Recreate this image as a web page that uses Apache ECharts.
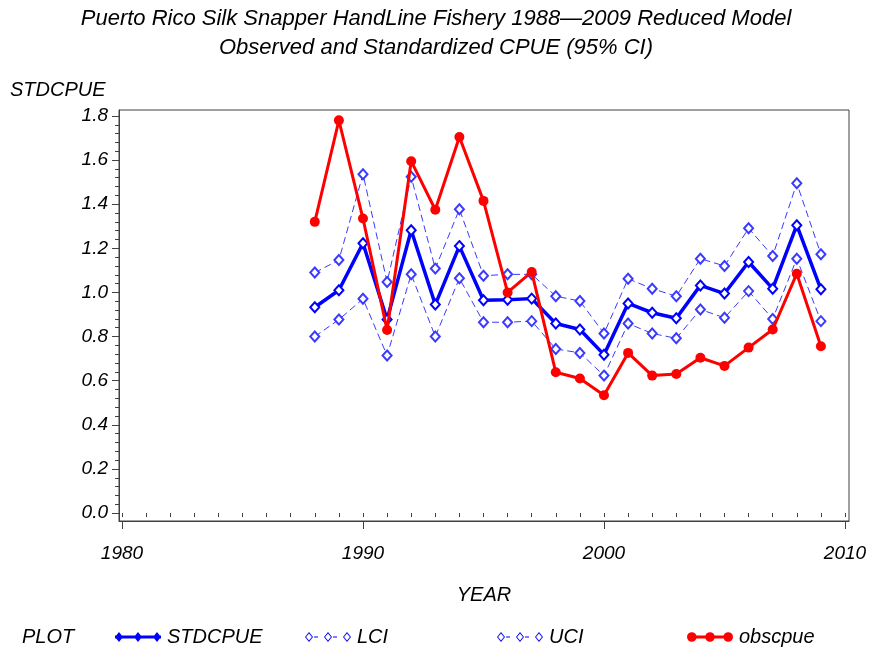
<!DOCTYPE html>
<html>
<head>
<meta charset="utf-8">
<script src="https://cdn.jsdelivr.net/npm/echarts@6/dist/echarts.min.js"></script>
<style>
html,body{margin:0;padding:0;background:#fff;}
#chart{width:872px;height:653px;}
</style>
</head>
<body>
<div id="chart"></div>
<script>
// ---- data ----
var years = [1988,1989,1990,1991,1992,1993,1994,1995,1996,1997,1998,1999,2000,2001,2002,2003,2004,2005,2006,2007,2008,2009];
var stdcpue = [0.933,1.010,1.223,0.877,1.282,0.945,1.210,0.965,0.967,0.972,0.859,0.832,0.718,0.950,0.908,0.883,1.032,0.995,1.138,1.017,1.305,1.014];
var lci = [0.800,0.877,0.971,0.714,1.082,0.800,1.064,0.865,0.865,0.870,0.744,0.726,0.623,0.859,0.814,0.792,0.923,0.885,1.006,0.880,1.153,0.870];
var uci = [1.090,1.147,1.536,1.047,1.524,1.108,1.377,1.076,1.082,1.082,0.983,0.961,0.814,1.062,1.017,0.983,1.153,1.120,1.291,1.165,1.495,1.173];
var obscpue = [1.320,1.780,1.335,0.830,1.595,1.375,1.705,1.415,1.000,1.093,0.638,0.610,0.534,0.726,0.623,0.630,0.704,0.667,0.750,0.832,1.085,0.756];
var xMajorTicks = [1980,1990,2000,2010];
var yMajorTicks = [0.0,0.2,0.4,0.6,0.8,1.0,1.2,1.4,1.6,1.8];
var titleLines = ['Puerto Rico Silk Snapper HandLine Fishery 1988\u20142009 Reduced Model','Observed and Standardized CPUE (95% CI)'];

// minor tick positions derived from the major ticks
var xMinorTicks = [];
for (var y = xMajorTicks[0]; y <= xMajorTicks[xMajorTicks.length-1]; y++) xMinorTicks.push(y);
var yMinorTicks = [];
for (var i = 0; i < yMajorTicks.length - 1; i++) {
  for (var k = 1; k < 5; k++) yMinorTicks.push(+(yMajorTicks[i] + k * (yMajorTicks[i+1]-yMajorTicks[i]) / 5).toFixed(3));
}

function pairs(vals){ return years.map(function(yr,i){ return [yr, vals[i]]; }); }

var FONT = '"Liberation Sans", Arial, sans-serif';
var AX = '#404040';
var BLUE = '#0000ff', RED = '#ff0000', LBLUE = '#3a3aff';

var iconStd = 'path://M0 3.5H46V6.5H0Z M4 0L8 5L4 10L0 5Z M23 0L27 5L23 10L19 5Z M42 0L46 5L42 10L38 5Z';
var iconCI = 'path://M4 0L8 5L4 10L0 5Z M4 1.4L1.1 5L4 8.6L6.9 5Z M23 0L27 5L23 10L19 5Z M23 1.4L20.1 5L23 8.6L25.9 5Z M42 0L46 5L42 10L38 5Z M42 1.4L39.1 5L42 8.6L44.9 5Z M9 4.6H13V5.4H9Z M28 4.6H32V5.4H28Z';
var iconObs = 'path://M0 3.5H46V6.5H0Z M4 0A5 5 0 1 1 3.99 0Z M23 0A5 5 0 1 1 22.99 0Z M42 0A5 5 0 1 1 41.99 0Z';

function legendAt(name, left, icon, color){
  return {
    data:[{name:name, icon:icon, itemStyle:{color:color, borderWidth:0}}],
    left:left, top:627, padding:0, itemWidth:46, itemHeight:10,
    selectedMode:false,
    textStyle:{fontFamily:FONT, fontStyle:'italic', fontSize:20, color:'#000', padding:[0,0,0,1]}
  };
}

var chart = echarts.init(document.getElementById('chart'), null, {renderer:'canvas'});
chart.setOption({
  backgroundColor:'#fff',
  animation:false,
  title:{
    text: titleLines.join('\n'),
    left:'center', top:-1,
    textStyle:{fontFamily:FONT, fontStyle:'italic', fontWeight:'normal', fontSize:22, color:'#000', lineHeight:29}
  },
  graphic:[
    {type:'text', left:10, top:80, style:{text:'STDCPUE', font:'italic 20px ' + FONT, fill:'#000'}},
    {type:'text', left:22, top:627, style:{text:'PLOT', font:'italic 20px ' + FONT, fill:'#000'}}
  ],
  legend:[
    legendAt('STDCPUE', 115, iconStd, BLUE),
    legendAt('LCI', 305, iconCI, BLUE),
    legendAt('UCI', 497, iconCI, BLUE),
    legendAt('obscpue', 687, iconObs, RED)
  ],
  grid:{left:119, top:110, width:730, height:411, show:true, borderColor:AX, borderWidth:1, backgroundColor:'transparent'},
  xAxis:[
    {type:'value', min:1979.876, max:2010.166, position:'bottom',
     name:'YEAR', nameLocation:'middle', nameGap:64,
     nameTextStyle:{fontFamily:FONT, fontStyle:'italic', fontSize:20, color:'#000'},
     axisLine:{show:true, onZero:false, lineStyle:{color:AX}},
     axisTick:{show:true, customValues:xMajorTicks, length:8, inside:false, lineStyle:{color:AX}},
     axisLabel:{customValues:xMajorTicks, margin:23, fontFamily:FONT, fontStyle:'italic', fontSize:19, color:'#000', formatter:function(v){return String(Math.round(v));}},
     splitLine:{show:false}},
    {type:'value', min:1979.876, max:2010.166, position:'bottom', offset:0,
     axisLine:{show:false},
     axisTick:{show:true, customValues:xMinorTicks, length:4, lineStyle:{color:AX}},
     axisLabel:{show:false}, splitLine:{show:false}}
  ],
  yAxis:[
    {type:'value', min:-0.036, max:1.827, position:'left',
     axisLine:{show:true, onZero:false, lineStyle:{color:AX}},
     axisTick:{show:true, customValues:yMajorTicks, length:7, lineStyle:{color:AX}},
     axisLabel:{customValues:yMajorTicks, margin:11, fontFamily:FONT, fontStyle:'italic', fontSize:19, color:'#000', formatter:function(v){return v.toFixed(1);}},
     splitLine:{show:false}},
    {type:'value', min:-0.036, max:1.827, position:'left', offset:0,
     axisLine:{show:false},
     axisTick:{show:true, customValues:yMinorTicks, length:4, lineStyle:{color:AX}},
     axisLabel:{show:false}, splitLine:{show:false}}
  ],
  series:[
    {name:'UCI', type:'line', data:pairs(uci), symbol:'emptyDiamond', symbolSize:[9,10], showAllSymbol:true,
     itemStyle:{color:LBLUE, borderWidth:1}, lineStyle:{color:LBLUE, width:1, type:[7,4]}, z:2},
    {name:'LCI', type:'line', data:pairs(lci), symbol:'emptyDiamond', symbolSize:[9,10], showAllSymbol:true,
     itemStyle:{color:LBLUE, borderWidth:1}, lineStyle:{color:LBLUE, width:1, type:[7,4]}, z:2},
    {name:'STDCPUE', type:'line', data:pairs(stdcpue), symbol:'emptyDiamond', symbolSize:[9,10], showAllSymbol:true,
     itemStyle:{color:BLUE, borderWidth:1}, lineStyle:{color:BLUE, width:3.5}, z:3},
    {name:'obscpue', type:'line', data:pairs(obscpue), symbol:'circle', symbolSize:10, showAllSymbol:true,
     itemStyle:{color:RED}, lineStyle:{color:RED, width:3}, z:4}
  ]
});
</script>
</body>
</html>
